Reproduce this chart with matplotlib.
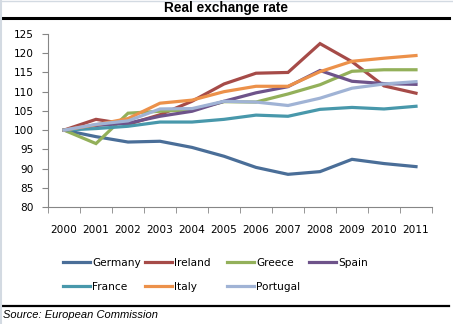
import matplotlib
matplotlib.use("Agg")
import matplotlib.pyplot as plt
from matplotlib.lines import Line2D

years = ["2000", "2001", "2002", "2003", "2004", "2005", "2006", "2007", "2008", "2009", "2010", "2011"]
germany = [100, 98.3, 96.9, 97.1, 95.5, 93.2, 90.3, 88.5, 89.2, 92.4, 91.3, 90.5]
ireland = [100, 102.8, 101.5, 104.0, 107.5, 112.0, 114.8, 115.0, 122.5, 117.8, 111.5, 109.6]
greece = [100, 96.5, 104.4, 104.9, 105.3, 107.4, 107.3, 109.4, 111.8, 115.3, 115.7, 115.7]
spain = [100, 101.2, 101.8, 103.6, 104.9, 107.5, 109.7, 111.3, 115.5, 112.7, 112.1, 111.9]
france = [100, 100.4, 101.0, 102.1, 102.1, 102.8, 103.9, 103.6, 105.4, 105.9, 105.5, 106.2]
italy = [100, 101.4, 103.0, 107.0, 107.8, 110.0, 111.4, 111.4, 115.2, 117.9, 118.7, 119.4]
portugal = [100, 101.5, 102.4, 105.5, 105.6, 107.5, 107.3, 106.4, 108.3, 110.9, 112.0, 112.6]

series = [
    ("Germany", germany, "#4A6E98"),
    ("Ireland", ireland, "#A64B48"),
    ("Greece", greece, "#93B05A"),
    ("Spain", spain, "#6E538A"),
    ("France", france, "#4898AB"),
    ("Italy", italy, "#EC914A"),
    ("Portugal", portugal, "#A0B3D5"),
]

W, H = 453, 324
fig = plt.figure(figsize=(W / 100, H / 100), dpi=100)
fig.patch.set_facecolor("white")

ax = fig.add_axes([48 / W, 1 - 207 / H, (432 - 48) / W, (207 - 34) / H])
x = list(range(len(years)))
handles = []
for name, vals, col in series:
    (ln,) = ax.plot(x, vals, color=col, lw=2.3, solid_joinstyle="miter", label=name)
    handles.append(ln)

ax.set_xlim(-0.5, len(years) - 0.5)
ax.set_ylim(80, 125)
ax.set_yticks(range(80, 126, 5))
ax.set_xticks(x)
ax.set_xticklabels(years)
ax.set_xticks([i - 0.5 for i in range(len(years) + 1)], minor=True)
ax.tick_params(axis="x", which="major", length=0, pad=13, labelsize=7.6, colors="black")
ax.tick_params(axis="x", which="minor", length=4, color="#868686", direction="out")
ax.tick_params(axis="y", length=4, color="#868686", direction="out", pad=6, labelsize=7.6)
for s in ["top", "right"]:
    ax.spines[s].set_visible(False)
for s in ["left", "bottom"]:
    ax.spines[s].set_color("#868686")
    ax.spines[s].set_linewidth(0.8)

# Title and separators
fig.text(226 / W, 1 - 8 / H, "Real exchange rate", ha="center", va="center",
         fontsize=9.8, fontweight="bold", family="Liberation Sans")
fig.add_artist(Line2D([0, 449 / W], [1 - 17.5 / H, 1 - 17.5 / H], color="black", lw=2.2,
                      transform=fig.transFigure))
fig.add_artist(Line2D([0, 449 / W], [1 - 305.5 / H, 1 - 305.5 / H], color="black", lw=1.6,
                      transform=fig.transFigure))
fig.text(3 / W, 1 - 315.5 / H, "Source: European Commission", ha="left", va="center",
         fontsize=8, style="italic", family="Liberation Sans")

# light border
fig.add_artist(Line2D([0.5 / W, 0.5 / W], [0, 1], color="#D3DAE2", lw=1.5, transform=fig.transFigure))
fig.add_artist(Line2D([0, 1], [1 - 0.5 / H, 1 - 0.5 / H], color="#D3DAE2", lw=1.0, transform=fig.transFigure))

# Legend: four equally spaced columns
cols = [[0, 4], [1, 5], [2, 6], [3]]
xs = [63, 145, 227, 309]
for cx, idxs in zip(xs, cols):
    fig.legend([handles[i] for i in idxs], [series[i][0] for i in idxs],
               loc="upper left", bbox_to_anchor=(cx / W, 1 - 258 / H),
               frameon=False, borderpad=0, borderaxespad=0, handlelength=2.6,
               handletextpad=0.15, labelspacing=1.3, fontsize=7.6)

fig.savefig("out.png", dpi=100)
